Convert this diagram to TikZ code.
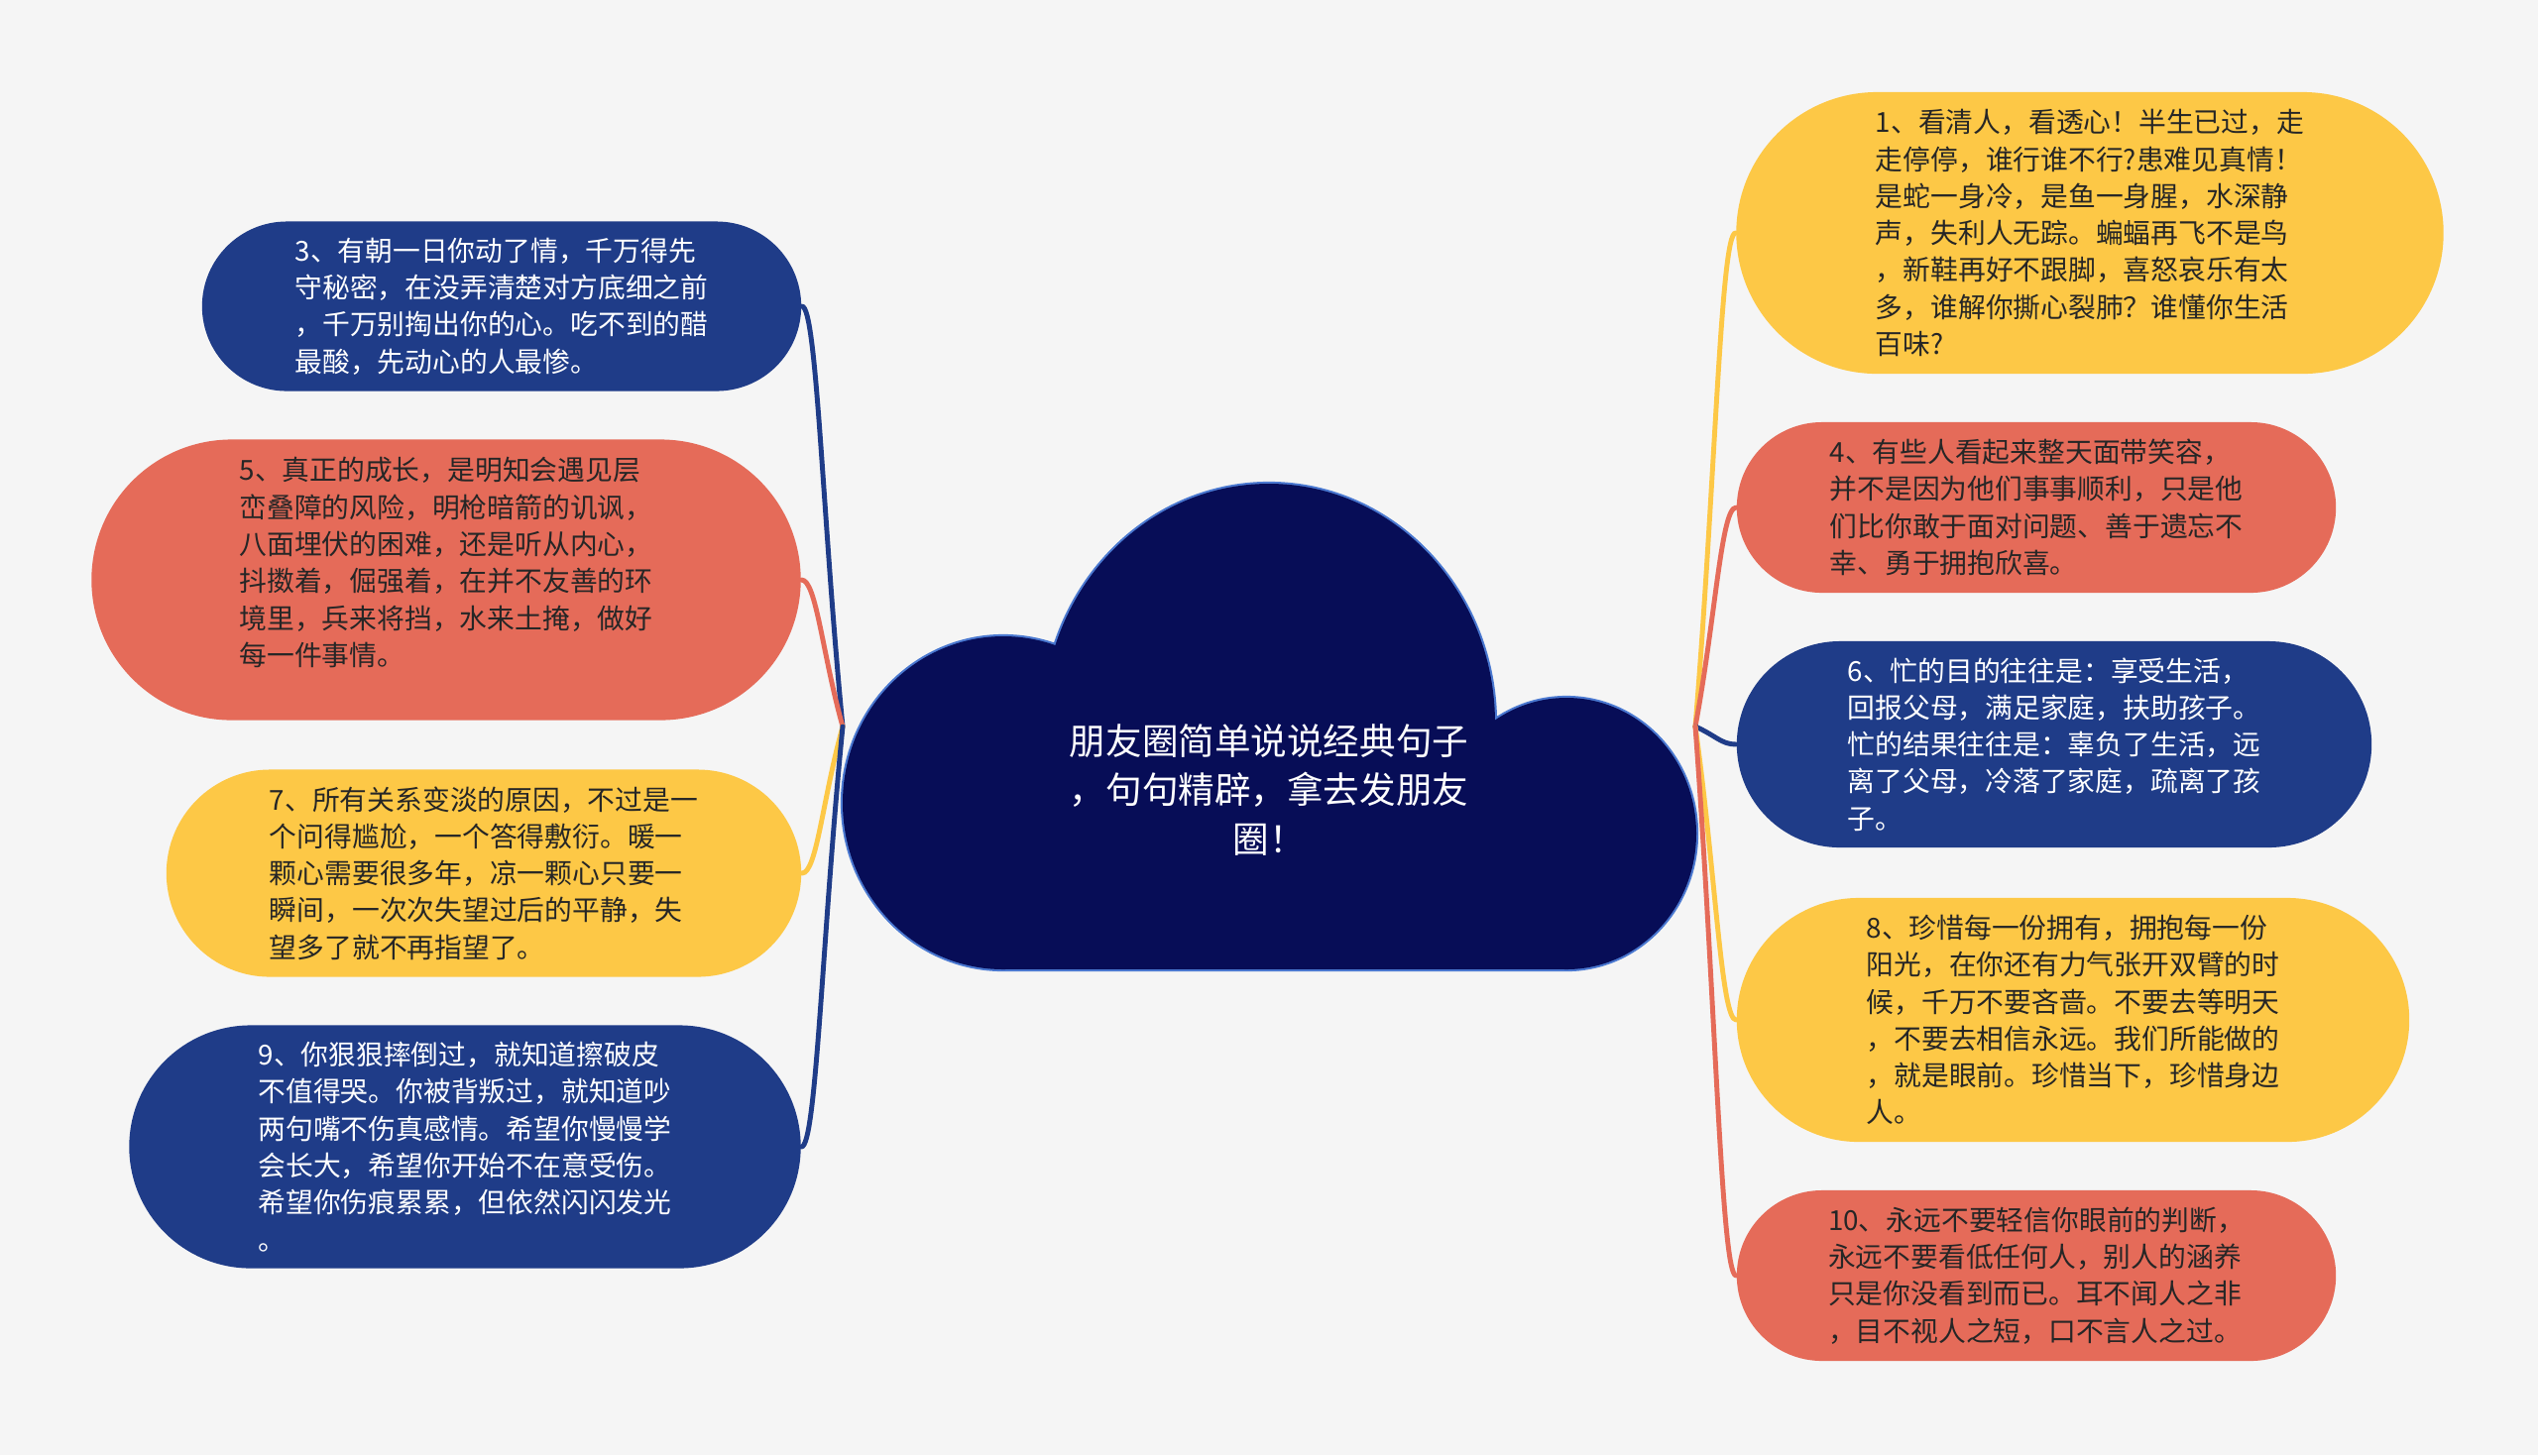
\documentclass[tikz,border=0pt]{standalone}
\usepackage{fontspec}
\setmainfont{Noto Sans CJK SC}
\usetikzlibrary{positioning}
\usetikzlibrary{shapes.misc, calc}
\definecolor{bgGray}{HTML}{F5F5F5}
\definecolor{boxBlue}{HTML}{1F3C88}
\definecolor{boxRed}{HTML}{E56B59}
\definecolor{boxYellow}{HTML}{FDC846}
\definecolor{cloudFill}{HTML}{070D57}
\definecolor{cloudEdge}{HTML}{4A78D0}
\definecolor{darkText}{HTML}{262626}

\begin{document}
\begin{tikzpicture}[x=0.01cm, y=-0.01cm,
    bubble/.style={rounded rectangle, inner sep=0pt, align=left,
      font=\fontsize{7.9pt}{10.6pt}\selectfont},
    blueBox/.style={bubble, fill=boxBlue, text=white},
    redBox/.style={bubble, fill=boxRed, text=darkText},
    yellowBox/.style={bubble, fill=boxYellow, text=darkText},
    link/.style={line width=1.4pt, line cap=round}]

    % background and page size
    \fill[bgGray] (0,0) rectangle (2560,1468);

    % cloud
    \draw[cloudEdge, line width=1.2pt] (1280,730) ellipse [x radius=228, y radius=242]
        (1012,810) ellipse [x radius=162, y radius=168]
        (1580,841) ellipse [x radius=131, y radius=137]
        (1012,820) rectangle (1580,978);
    \fill[cloudFill] (1280,730) ellipse [x radius=228, y radius=242];
    \fill[cloudFill] (1012,810) ellipse [x radius=162, y radius=168];
    \fill[cloudFill] (1580,841) ellipse [x radius=131, y radius=137];
    \fill[cloudFill] (1012,820) rectangle (1580,978);

    \node (root)[text=white, align=center, font=\fontsize{10.4pt}{14.2pt}\selectfont] at (1280,797)
        {朋友圈简单说说经典句子\\，句句精辟，拿去发朋友\\圈！};
    \coordinate (jl) at (850,733);
    \coordinate (jr) at (1710,733);

    % left side
    \node (n3)[blueBox, minimum width=6.04cm, minimum height=1.71cm] at (506,309)
        {3、有朝一日你动了情，千万得先\\守秘密，在没弄清楚对方底细之前\\，千万别掏出你的心。吃不到的醋\\最酸，先动心的人最惨。};
    \node (n5)[redBox, minimum width=7.15cm, minimum height=2.83cm] at (450,585)
        {5、真正的成长，是明知会遇见层\\峦叠障的风险，明枪暗箭的讥讽，\\八面埋伏的困难，还是听从内心，\\抖擞着，倔强着，在并不友善的环\\境里，兵来将挡，水来土掩，做好\\每一件事情。\\\mbox{}};
    \node (n7)[yellowBox, minimum width=6.4cm, minimum height=2.09cm] at (488,881)
        {7、所有关系变淡的原因，不过是一\\个问得尴尬，一个答得敷衍。暖一\\颗心需要很多年，凉一颗心只要一\\瞬间，一次次失望过后的平静，失\\望多了就不再指望了。};
    \node (n9)[blueBox, minimum width=6.77cm, minimum height=2.45cm] at (469,1157)
        {9、你狠狠摔倒过，就知道擦破皮\\不值得哭。你被背叛过，就知道吵\\两句嘴不伤真感情。希望你慢慢学\\会长大，希望你开始不在意受伤。\\希望你伤痕累累，但依然闪闪发光\\。};

    % right side
    \node (n1)[yellowBox, minimum width=7.13cm, minimum height=2.84cm] at (2108,235)
        {1、看清人，看透心！半生已过，走\\走停停，谁行谁不行?患难见真情！\\是蛇一身冷，是鱼一身腥，水深静\\声，失利人无踪。蝙蝠再飞不是鸟\\，新鞋再好不跟脚，喜怒哀乐有太\\多，谁解你撕心裂肺？谁懂你生活\\百味?};
    \node (n4)[redBox, minimum width=6.04cm, minimum height=1.72cm] at (2054,512)
        {4、有些人看起来整天面带笑容，\\并不是因为他们事事顺利，只是他\\们比你敢于面对问题、善于遗忘不\\幸、勇于拥抱欣喜。};
    \node (n6)[blueBox, minimum width=6.4cm, minimum height=2.08cm] at (2072,751)
        {6、忙的目的往往是：享受生活，\\回报父母，满足家庭，扶助孩子。\\忙的结果往往是：辜负了生活，远\\离了父母，冷落了家庭，疏离了孩\\子。};
    \node (n8)[yellowBox, minimum width=6.78cm, minimum height=2.46cm] at (2091,1029)
        {8、珍惜每一份拥有，拥抱每一份\\阳光，在你还有力气张开双臂的时\\候，千万不要吝啬。不要去等明天\\，不要去相信永远。我们所能做的\\，就是眼前。珍惜当下，珍惜身边\\人。};
    \node (n10)[redBox, minimum width=6.04cm, minimum height=1.72cm] at (2054,1287)
        {10、永远不要轻信你眼前的判断，\\永远不要看低任何人，别人的涵养\\只是你没看到而已。耳不闻人之非\\，目不视人之短，口不言人之过。};

    % links
    \foreach \n/\c in {n3/boxBlue, n5/boxRed, n7/boxYellow, n9/boxBlue}
        \draw[link, \c] (jl) .. controls ($(jl)!0.5!(\n.east)$) and ($(\n.east)+(15,0)$) .. (\n.east);
    \foreach \n/\c in {n1/boxYellow, n4/boxRed, n6/boxBlue, n8/boxYellow, n10/boxRed}
        \draw[link, \c] (jr) .. controls ($(jr)!0.5!(\n.west)$) and ($(\n.west)+(-15,0)$) .. (\n.west);
\end{tikzpicture}
\end{document}
